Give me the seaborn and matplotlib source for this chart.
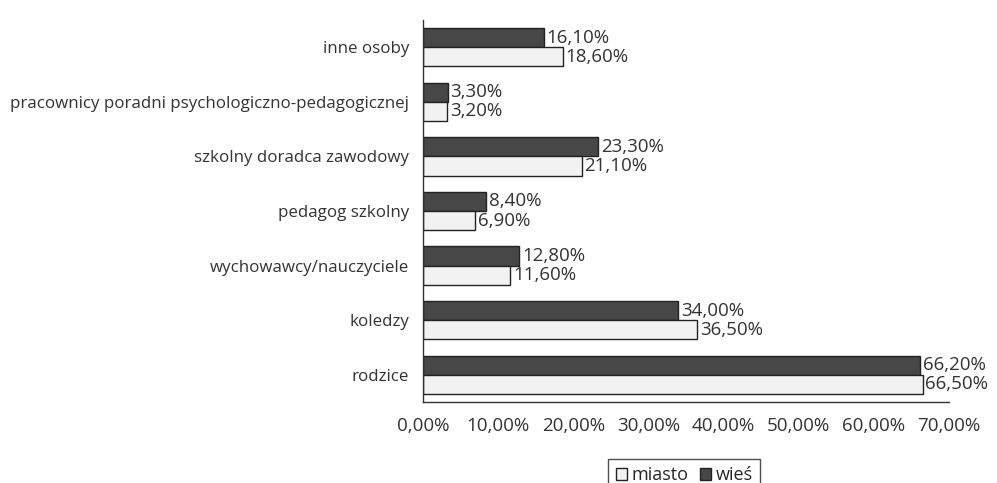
import matplotlib
matplotlib.use("Agg")
import matplotlib.pyplot as plt
import seaborn as sns
import pandas as pd
from matplotlib.patches import Patch
from matplotlib.ticker import FixedLocator

categories = ["inne osoby",
              "pracownicy poradni psychologiczno-pedagogicznej",
              "szkolny doradca zawodowy",
              "pedagog szkolny",
              "wychowawcy/nauczyciele",
              "koledzy",
              "rodzice"]
wies = [16.1, 3.3, 23.3, 8.4, 12.8, 34.0, 66.2]
miasto = [18.6, 3.2, 21.1, 6.9, 11.6, 36.5, 66.5]
series = ["wieś", "miasto"]
xticks = [0, 10, 20, 30, 40, 50, 60, 70]

df = pd.DataFrame({
    "kategoria": categories * 2,
    "wartosc": wies + miasto,
    "grupa": ["wieś"] * len(categories) + ["miasto"] * len(categories),
})

sns.set_style("white")
plt.rcParams["font.family"] = ["Open Sans", "DejaVu Sans"]

fig = plt.figure(figsize=(9.97, 4.83), dpi=100)
ax = fig.add_axes([0.4243, 0.1677, 0.5275, 0.7909])

colors = {"wieś": "#474747", "miasto": "#f2f2f2"}
sns.barplot(data=df, y="kategoria", x="wartosc", hue="grupa",
            order=categories, hue_order=series, palette=colors,
            orient="h", width=0.7, edgecolor="#222222", linewidth=1.0,
            ax=ax, legend=False)

def fmt(v):
    return f"{v:.2f}".replace(".", ",") + "%"

for cont in ax.containers:
    ax.bar_label(cont, labels=[fmt(b.get_width()) for b in cont],
                 padding=2, fontsize=13.5, color="#333333")

ax.set_xlim(0, 70)
ax.set_ylim(len(categories) - 0.5, -0.5)
ax.set_xticks(xticks)
ax.set_xticklabels([fmt(v) for v in xticks], fontsize=13.5, color="#333333")
ax.tick_params(axis="x", direction="out", length=4, width=1, color="#333333", pad=7)
ax.tick_params(axis="y", which="major", length=0, pad=10, labelsize=12.2, labelcolor="#333333")
ax.yaxis.set_minor_locator(FixedLocator([i - 0.5 for i in range(len(categories) + 1)]))
ax.tick_params(axis="y", which="minor", direction="out", length=5, width=1, color="#333333")
ax.set_xlabel("")
ax.set_ylabel("")
for s in ["top", "right"]:
    ax.spines[s].set_visible(False)
for s in ["left", "bottom"]:
    ax.spines[s].set_color("#333333")
    ax.spines[s].set_linewidth(1)

handles = [Patch(facecolor=colors["miasto"], edgecolor="#222222", label="miasto"),
           Patch(facecolor=colors["wieś"], edgecolor="#222222", label="wieś")]
leg = fig.legend(handles=handles, loc="upper center", bbox_to_anchor=(0.6865, 0.068),
                 ncol=2, frameon=True, fontsize=13, handlelength=0.6, handleheight=0.6,
                 handletextpad=0.3, columnspacing=0.6, borderpad=0.4, fancybox=False)
leg.get_frame().set_edgecolor("#222222")
leg.get_frame().set_linewidth(1)

fig.savefig("out.png", dpi=100)
